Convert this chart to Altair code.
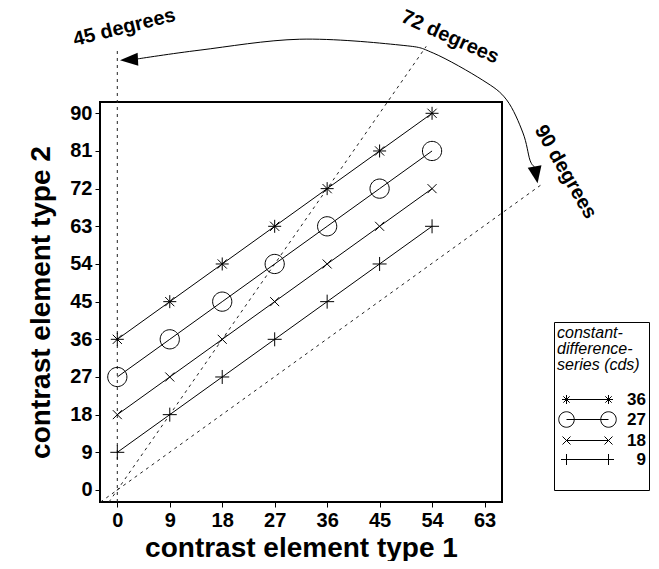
import math
import altair as alt
import pandas as pd

# ---------------- data ----------------
x_values = [0, 9, 18, 27, 36, 45, 54]
cds_levels = ["36", "27", "18", "9"]
y_cds36 = [36, 45, 54, 63, 72, 81, 90]
y_cds27 = [27, 36, 45, 54, 63, 72, 81]
y_cds18 = [18, 27, 36, 45, 54, 63, 72]
y_cds9 = [9, 18, 27, 36, 45, 54, 63]

x_ticks = [0, 9, 18, 27, 36, 45, 54, 63]
y_ticks = [0, 9, 18, 27, 36, 45, 54, 63, 72, 81, 90]

ref_names = ["45 degrees", "72 degrees", "90 degrees"]
ref_x_from = [0, -1.43, -2.87]
ref_y_from = [-2.87, -2.87, -2.87]
ref_x_to = [0, 53.0, 73.1]
ref_y_to = [105.6, 106.0, 73.3]

label_x = [1.2, 57.1, 76.9]
label_y = [110.5, 108.2, 76.0]
label_angle = [346, 24, 60]

arrow_x = [3.5, 14.2, 31.3, 48.5, 54.2, 62.7, 66.8, 69.6, 70.8, 71.6]
arrow_y = [103.0, 105.1, 107.7, 106.3, 104.4, 97.9, 93.2, 85.3, 78.8, 77.2]
head_x = [0.46, 72.1]
head_y = [102.7, 73.3]

legend_title = ["constant-", "difference-", "series (cds)"]

# ---------------- tables ----------------
series_y = {"36": y_cds36, "27": y_cds27, "18": y_cds18, "9": y_cds9}
rows = []
for c in cds_levels:
    for i, (xv, yv) in enumerate(zip(x_values, series_y[c])):
        rows.append({"x": xv, "y": yv, "cds": c, "ord": i})
df_series = pd.DataFrame(rows)

ref_rows = []
for n, x0, y0, x1, y1 in zip(ref_names, ref_x_from, ref_y_from, ref_x_to, ref_y_to):
    ref_rows.append({"ref": n, "x": x0, "y": y0, "ord": 0})
    ref_rows.append({"ref": n, "x": x1, "y": y1, "ord": 1})
df_ref = pd.DataFrame(ref_rows)

df_labels = pd.DataFrame({"x": label_x, "y": label_y, "text": ref_names, "angle": label_angle})
df_arrow = pd.DataFrame({"x": arrow_x, "y": arrow_y, "ord": list(range(len(arrow_x)))})
df_head_l = pd.DataFrame({"x": head_x[:1], "y": head_y[:1]})
df_head_r = pd.DataFrame({"x": head_x[1:], "y": head_y[1:]})

# ---------------- marker shapes (unit square [-1,1]) ----------------
def plus(cx, h):
    return f"M{cx-h:.3f},0L{cx+h:.3f},0M{cx:.3f},{-h:.3f}L{cx:.3f},{h:.3f}"

def cross(cx, h):
    return (f"M{cx-h:.3f},{-h:.3f}L{cx+h:.3f},{h:.3f}"
            f"M{cx-h:.3f},{h:.3f}L{cx+h:.3f},{-h:.3f}")

def star(cx, h):
    return plus(cx, h) + cross(cx, h * 0.707)

def ring(cx, r, n=40):
    pts = [f"{cx + r*math.cos(2*math.pi*i/n):.3f},{r*math.sin(2*math.pi*i/n):.3f}"
           for i in range(n)]
    return "M" + "L".join(pts) + "Z"

marker_paths = [star(0, 0.65), ring(0, 0.96), cross(0, 0.45), plus(0, 0.7)]

lx0, lx1 = 0.2, 8.6
def legend_path(fn, h):
    return f"M{lx0},0L{lx1},0" + fn(lx0, h) + fn(lx1, h)

legend_paths = [legend_path(star, 0.9), legend_path(ring, 1.55),
                legend_path(cross, 0.8), legend_path(plus, 1.1), "M0,0"]
legend_domain = cds_levels + [" "]

# ---------------- encodings ----------------
FONT = "Liberation Sans"
X = alt.X("x:Q",
          scale=alt.Scale(domain=[-2.97, 66.0], nice=False, zero=False),
          axis=alt.Axis(values=x_ticks, title="contrast element type 1"))
Y = alt.Y("y:Q",
          scale=alt.Scale(domain=[-2.87, 92.7], nice=False, zero=False),
          axis=alt.Axis(values=y_ticks, title="contrast element type 2"))

lines = alt.Chart(df_series).mark_line(color="black", strokeWidth=1).encode(
    x=X, y=Y, detail="cds:N", order="ord:Q")

points = alt.Chart(df_series).mark_point(
    filled=False, color="black", strokeWidth=1, size=400, opacity=1
).encode(
    x=X, y=Y,
    shape=alt.Shape("cds:N", scale=alt.Scale(domain=cds_levels, range=marker_paths),
                    legend=None))

legend_layer = alt.Chart(df_series).mark_point(
    filled=False, color="black", strokeWidth=1, size=100, opacity=1
).transform_filter("false").encode(
    x=X, y=Y,
    shape=alt.Shape("cds:N", scale=alt.Scale(domain=legend_domain, range=legend_paths),
                    legend=alt.Legend(
                        title=legend_title, orient="none", legendX=454, legendY=220,
                        titleFont=FONT, titleFontSize=16, titleFontStyle="italic",
                        titleFontWeight="normal", titleColor="black", titleLineHeight=16,
                        titlePadding=18, titleAnchor="start",
                        labelFont=FONT, labelFontSize=17, labelFontWeight="bold",
                        labelColor="black", labelAlign="right", labelOffset=72,
                        symbolSize=100, symbolStrokeWidth=1, symbolStrokeColor="black",
                        symbolOpacity=1, rowPadding=1, padding=3,
                        strokeColor="black", fillColor="white")))

refs = alt.Chart(df_ref).mark_line(color="#222222", strokeWidth=1, strokeDash=[3, 4]).encode(
    x=X, y=Y, detail="ref:N", order="ord:Q")

labels = alt.Chart(df_labels).mark_text(
    font=FONT, fontSize=20, fontWeight="bold", align="center", baseline="middle",
    color="black"
).encode(x=X, y=Y, text="text:N", angle=alt.Angle("angle:Q", scale=None))

arrow = alt.Chart(df_arrow).mark_line(color="black", strokeWidth=1, interpolate="cardinal").encode(
    x=X, y=Y, order="ord:Q")

head_l = alt.Chart(df_head_l).mark_point(
    shape="M0,0L2,-0.72L2,0.72Z", filled=True, color="black", size=324, angle=357,
    opacity=1, strokeWidth=0).encode(x=X, y=Y)
head_r = alt.Chart(df_head_r).mark_point(
    shape="M0,0L-0.82,-2L0.82,-2Z", filled=True, color="black", size=289, angle=350,
    opacity=1, strokeWidth=0).encode(x=X, y=Y)

chart = alt.layer(
    refs, lines, points, legend_layer, arrow, head_l, head_r, labels
).resolve_scale(shape="independent").properties(
    width=402, height=400,
    autosize=alt.AutoSizeParams(type="none"),
    padding={"left": 92, "top": 94, "right": 149, "bottom": 59},
    background="white",
).configure_view(
    stroke="black", strokeWidth=2
).configure_axis(
    domain=False, grid=False, tickColor="black", tickSize=5, tickWidth=1,
    labelFont=FONT, labelFontSize=20, labelFontWeight="bold", labelColor="black",
    labelPadding=3, labelFlush=False,
    titleFont=FONT, titleFontSize=28, titleFontWeight="bold", titleColor="black",
).configure_axisX(titlePadding=4).configure_axisY(titlePadding=14)

chart.save("out.html", embed_options={"renderer": "svg", "actions": False})
